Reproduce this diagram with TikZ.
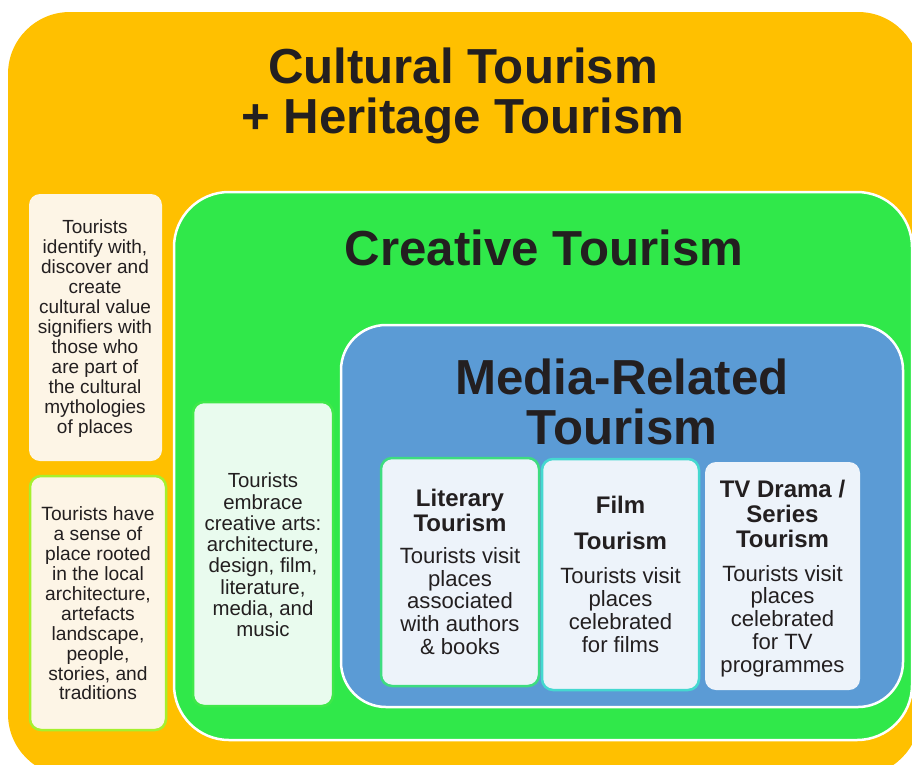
\documentclass[tikz,border=0pt]{standalone}
\usepackage{fontspec}
\setmainfont{Liberation Sans}
\usepackage{tikz}

\definecolor{heritage}{HTML}{FFC000}
\definecolor{creative}{HTML}{30E84A}
\definecolor{media}{HTML}{5B9BD5}
\definecolor{cream}{HTML}{FDF5E6}
\definecolor{mint}{HTML}{E9FBEE}
\definecolor{ice}{HTML}{EDF3FA}
\definecolor{ink}{HTML}{231F20}
\definecolor{lime}{HTML}{A6F02E}
\definecolor{leaf}{HTML}{3FE84A}
\definecolor{jade}{HTML}{3EDC80}
\definecolor{aqua}{HTML}{45D8D0}

\tikzset{
  panel/.style={rectangle,draw=white,line width=2.5pt,inner sep=0pt},
  note/.style={rectangle,rounded corners=11pt,inner sep=0pt,line width=2.5pt},
  heading/.style={font=\bfseries\fontsize{49.2}{50.5}\selectfont},
  subhead/.style={font=\bfseries\fontsize{24}{25}\selectfont},
  blurb/.style={font=\fontsize{22.1}{22.8}\selectfont}
}

\begin{document}
\begin{tikzpicture}[x=1pt,y=-1pt,every node/.style={text=ink,align=center,inner sep=0pt}]
\useasboundingbox (0,0) rectangle (912,764);
\clip (0,0) rectangle (912,764);
\fill[white] (0,0) rectangle (912,764);

\node[panel,draw=none,fill=heritage,rounded corners=62pt,minimum width=912pt,minimum height=764pt] (cultural) at (464,394) {};
\node[heading] (culturaltitle) at (463,96) {Cultural Tourism\\+ Heritage Tourism};

\node[note,fill=cream,minimum width=133pt,minimum height=267pt] (identify) at (95.5,327.5) {};
\node[font=\fontsize{19}{20}\selectfont] (identifytext) at (95,329) {Tourists\\identify with,\\discover and\\create\\cultural value\\signifiers with\\those who\\are part of\\the cultural\\mythologies\\of places};
\node[note,draw=lime,fill=cream,minimum width=136pt,minimum height=254pt] (sense) at (98,603) {};
\node[font=\fontsize{19.2}{19.9}\selectfont] (sensetext) at (98,603.5) {Tourists have\\a sense of\\place rooted\\in the local\\architecture,\\artefacts\\landscape,\\people,\\stories, and\\traditions};

\node[panel,fill=creative,rounded corners=55pt,minimum width=738pt,minimum height=548pt] (creativebox) at (543,466) {};
\node[heading] (creativetitle) at (544,248) {Creative Tourism};
\node[note,draw=leaf,fill=mint,minimum width=140pt,minimum height=304pt] (arts) at (263,554) {};
\node[font=\fontsize{20.4}{21.3}\selectfont] (artstext) at (263,555) {Tourists\\embrace\\creative arts:\\architecture,\\design, film,\\literature,\\media, and\\music};

\node[panel,fill=media,rounded corners=45pt,minimum width=562pt,minimum height=382pt] (mediabox) at (622,516) {};
\node[heading] (mediatitle) at (622,402) {Media-Related\\Tourism};

\node[note,draw=jade,fill=ice,minimum width=158pt,minimum height=228pt] (literary) at (460,572) {};
\node[subhead] (literarytitle) at (460,510) {Literary\\Tourism};
\node[blurb] (literarytext) at (460,601) {Tourists visit\\places\\associated\\with authors\\\& books};

\node[note,draw=aqua,fill=ice,minimum width=157pt,minimum height=231pt] (film) at (620.5,574.5) {};
\node[subhead] (filmtitle) at (620.5,523) {Film\\[11pt]Tourism};
\node[blurb] (filmtext) at (620.5,610) {Tourists visit\\places\\celebrated\\for films};

\node[note,fill=ice,minimum width=155pt,minimum height=228pt] (tv) at (782.5,576) {};
\node[subhead] (tvtitle) at (782.5,514) {TV Drama /\\Series\\Tourism};
\node[blurb] (tvtext) at (782.5,621) {Tourists visit\\places\\celebrated\\for TV\\programmes};
\end{tikzpicture}
\end{document}
